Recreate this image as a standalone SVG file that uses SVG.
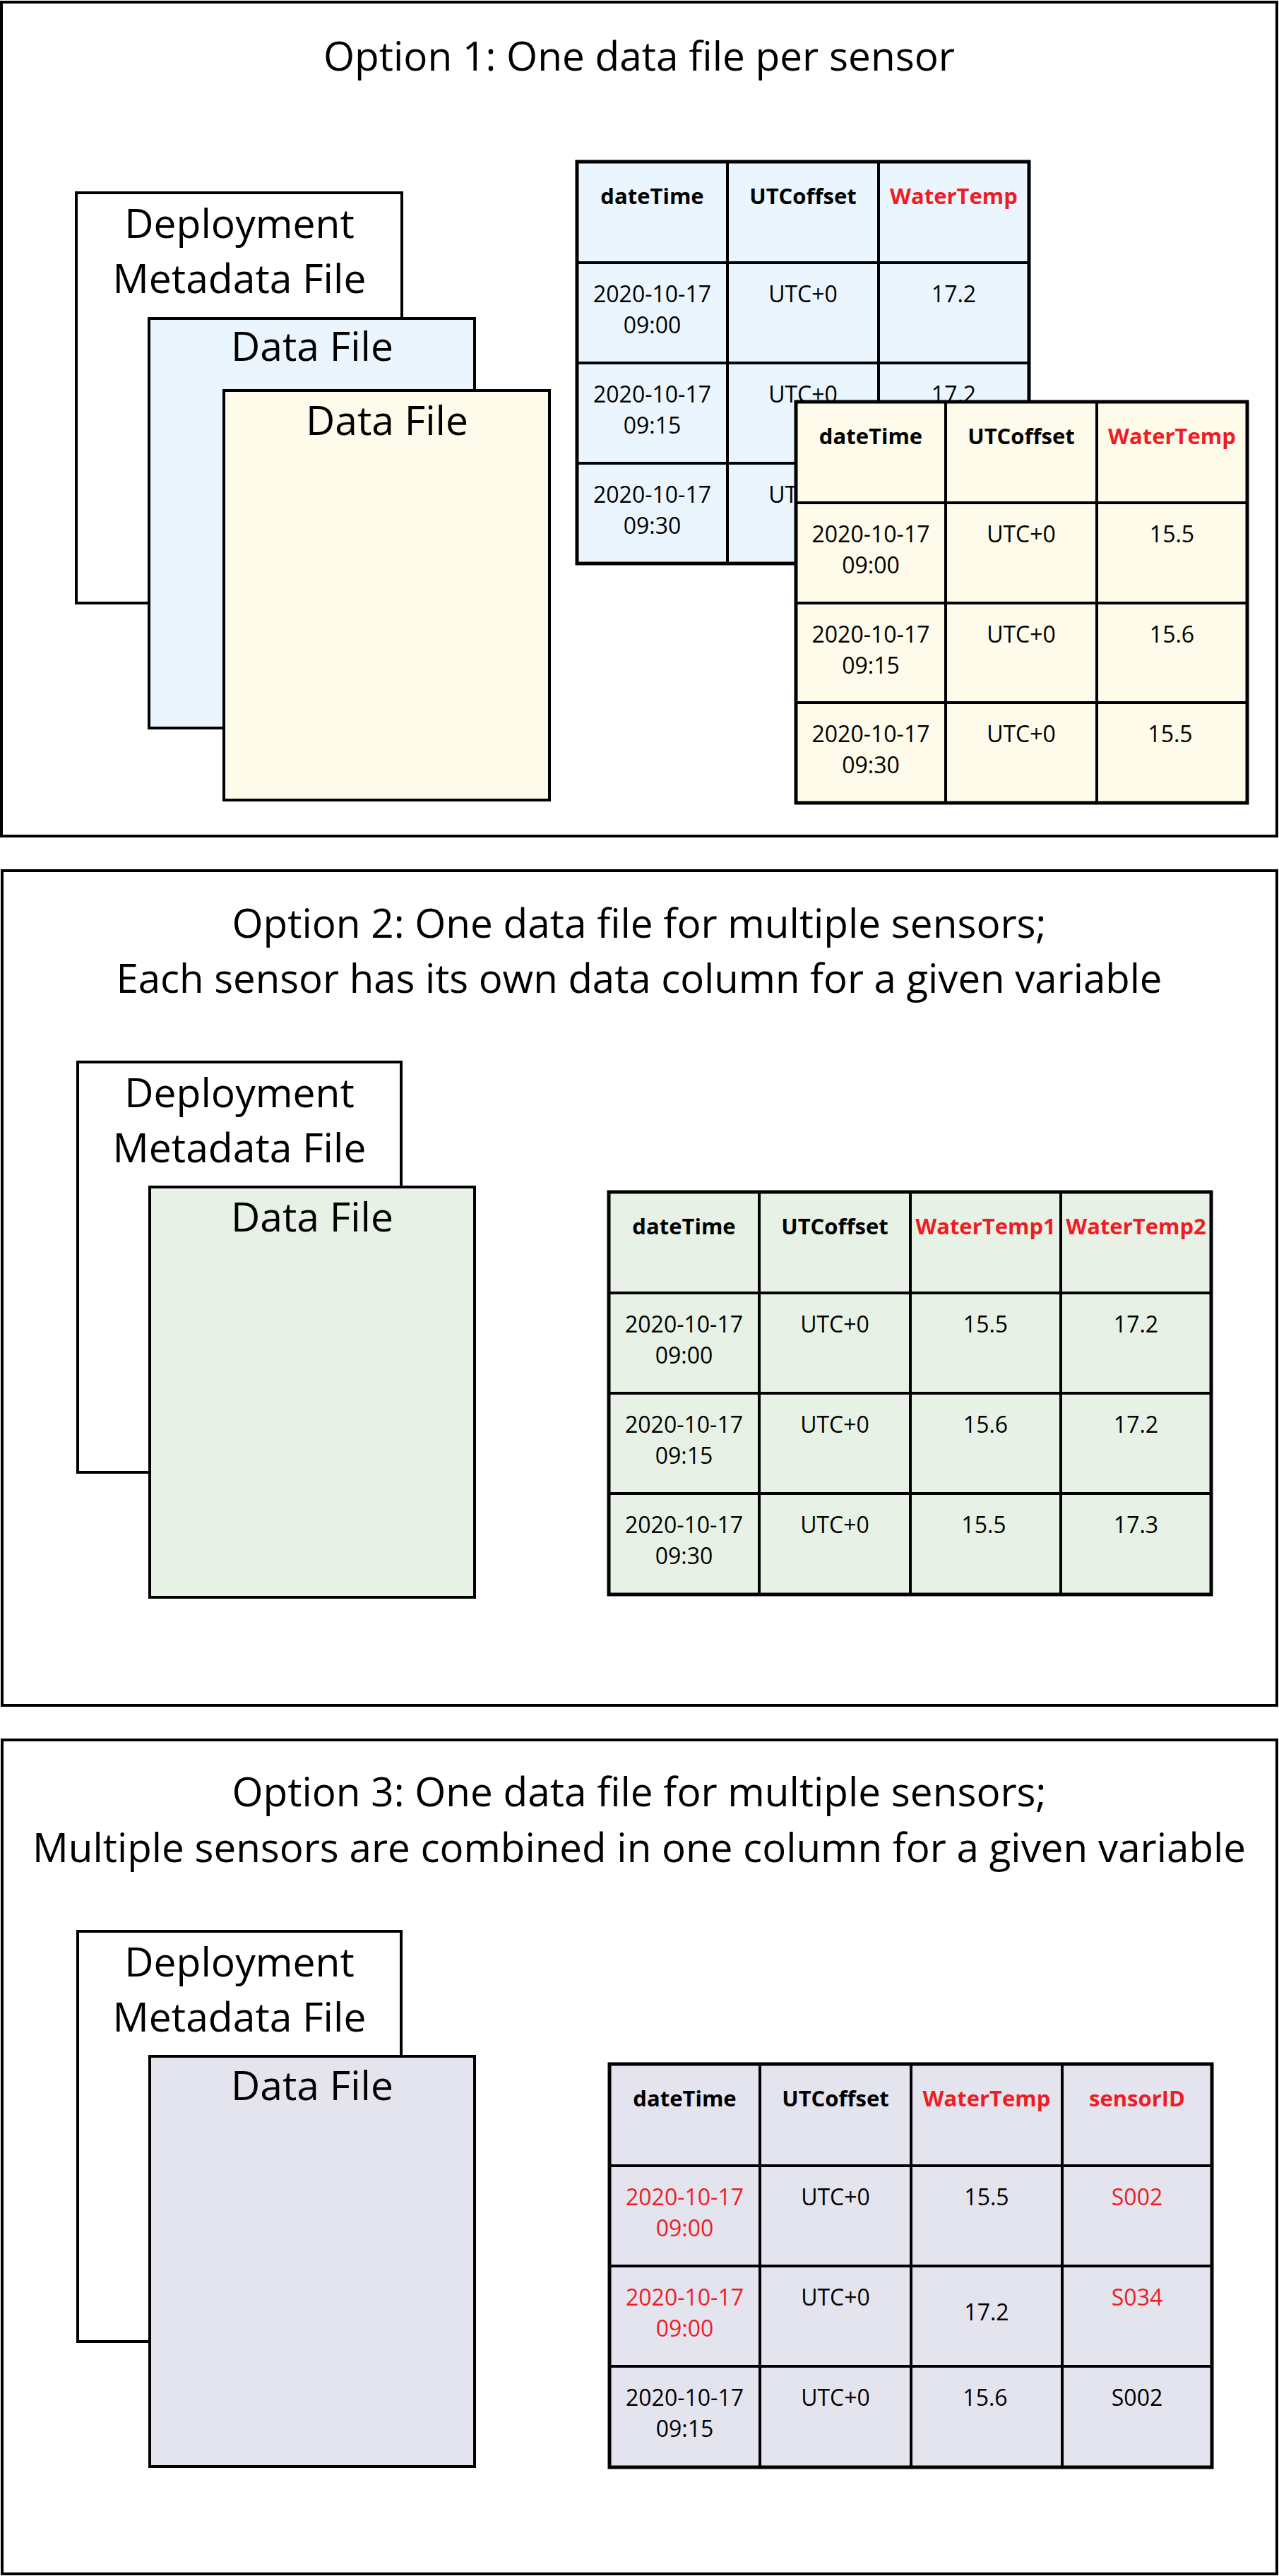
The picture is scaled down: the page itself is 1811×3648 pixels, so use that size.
<svg xmlns="http://www.w3.org/2000/svg" width="1811" height="3648" viewBox="0 0 1811 3648">
<style>
.frame{fill:#ffffff;stroke:#000;stroke-width:4}
.box{stroke:#000;stroke-width:4}
.white{fill:#ffffff}
.blue{fill:#EAF5FD}
.yellow{fill:#FEFBEA}
.green{fill:#E7F1E5}
.lav{fill:#E4E4EF}
.grid{stroke:#000;stroke-width:4;fill:none}
.outer{stroke:#000;stroke-width:5;fill:none}
.title{font-family:"Open Sans","Noto Sans",sans-serif;font-size:57px;fill:#000;text-anchor:middle}
.big{font-family:"Open Sans","Noto Sans",sans-serif;font-size:57px;fill:#000;text-anchor:middle}
.hd{font-family:"Open Sans","Noto Sans",sans-serif;font-size:31px;font-weight:bold;fill:#000;text-anchor:middle}
.td{font-family:"Open Sans","Noto Sans",sans-serif;font-size:32px;fill:#000;text-anchor:middle}
.red{fill:#EE1C24}
</style>

<!-- ========== OPTION 1 ========== -->
<g id="option1">
  <rect class="frame" x="2" y="3" width="1806" height="1181"/>
  <text class="title" x="905" y="100" textLength="894" lengthAdjust="spacingAndGlyphs">Option 1: One data file per sensor</text>
</g>
<g id="opt1-metadata">
  <rect class="box white" x="108" y="273" width="461" height="581"/>
  <text class="big" x="339" y="337">Deployment</text>
  <text class="big" x="339" y="415">Metadata File</text>
</g>
<g id="opt1-datafile-blue">
  <rect class="box blue" x="211" y="451" width="461" height="580"/>
  <text class="big" x="442" y="511">Data File</text>
</g>
<g id="opt1-datafile-yellow">
  <rect class="box yellow" x="317" y="553" width="461" height="580"/>
  <text class="big" x="548" y="616">Data File</text>
</g>
<g id="opt1-table-blue">
  <rect class="blue" x="817" y="229" width="640" height="569"/>
  <path class="grid" d="M1030 229V798M1244 229V798M817 372H1457M817 514H1457M817 656H1457"/>
  <rect class="outer" x="817" y="229" width="640" height="569"/>
  <text class="hd" x="923.5" y="289">dateTime</text>
  <text class="hd" x="1137" y="289">UTCoffset</text>
  <text class="hd red" x="1350.5" y="289">WaterTemp</text>
  <text class="td" x="923.5" y="428">2020-10-17</text>
  <text class="td" x="923.5" y="472">09:00</text>
  <text class="td" x="1137" y="428">UTC+0</text>
  <text class="td" x="1350.5" y="428">17.2</text>
  <text class="td" x="923.5" y="570">2020-10-17</text>
  <text class="td" x="923.5" y="614">09:15</text>
  <text class="td" x="1137" y="570">UTC+0</text>
  <text class="td" x="1350.5" y="570">17.2</text>
  <text class="td" x="923.5" y="712">2020-10-17</text>
  <text class="td" x="923.5" y="756">09:30</text>
  <text class="td" x="1137" y="712">UTC+0</text>
  <text class="td" x="1350.5" y="712">17.2</text>
</g>
<g id="opt1-table-yellow">
  <rect class="yellow" x="1127" y="569" width="639" height="568"/>
  <path class="grid" d="M1339 569V1137M1553 569V1137M1127 712H1766M1127 854H1766M1127 995H1766"/>
  <rect class="outer" x="1127" y="569" width="639" height="568"/>
  <text class="hd" x="1233" y="629">dateTime</text>
  <text class="hd" x="1446" y="629">UTCoffset</text>
  <text class="hd red" x="1659.5" y="629">WaterTemp</text>
  <text class="td" x="1233" y="768">2020-10-17</text>
  <text class="td" x="1233" y="812">09:00</text>
  <text class="td" x="1446" y="768">UTC+0</text>
  <text class="td" x="1659.5" y="768">15.5</text>
  <text class="td" x="1233" y="910">2020-10-17</text>
  <text class="td" x="1233" y="954">09:15</text>
  <text class="td" x="1446" y="910">UTC+0</text>
  <text class="td" x="1659.5" y="910">15.6</text>
  <text class="td" x="1233" y="1051">2020-10-17</text>
  <text class="td" x="1233" y="1095">09:30</text>
  <text class="td" x="1446" y="1051">UTC+0</text>
  <text class="td" x="1657" y="1051">15.5</text>
</g>

<!-- ========== OPTION 2 ========== -->
<g id="option2">
  <rect class="frame" x="3" y="1233" width="1805" height="1182"/>
  <text class="title" x="905" y="1328" textLength="1153" lengthAdjust="spacingAndGlyphs">Option 2: One data file for multiple sensors;</text>
  <text class="title" x="905" y="1406" textLength="1481" lengthAdjust="spacingAndGlyphs">Each sensor has its own data column for a given variable</text>
</g>
<g id="opt2-metadata">
  <rect class="box white" x="110" y="1504" width="458" height="581"/>
  <text class="big" x="339" y="1568">Deployment</text>
  <text class="big" x="339" y="1646">Metadata File</text>
</g>
<g id="opt2-datafile">
  <rect class="box green" x="212" y="1681" width="460" height="581"/>
  <text class="big" x="442" y="1744">Data File</text>
</g>
<g id="opt2-table">
  <rect class="green" x="862" y="1688" width="853" height="570"/>
  <path class="grid" d="M1075 1688V2258M1289 1688V2258M1502 1688V2258M862 1831H1715M862 1973H1715M862 2115H1715"/>
  <rect class="outer" x="862" y="1688" width="853" height="570"/>
  <text class="hd" x="968.5" y="1748">dateTime</text>
  <text class="hd" x="1182" y="1748">UTCoffset</text>
  <text class="hd red" x="1395.5" y="1748">WaterTemp1</text>
  <text class="hd red" x="1608.5" y="1748">WaterTemp2</text>
  <text class="td" x="968.5" y="1887">2020-10-17</text>
  <text class="td" x="968.5" y="1931">09:00</text>
  <text class="td" x="1182" y="1887">UTC+0</text>
  <text class="td" x="1395.5" y="1887">15.5</text>
  <text class="td" x="1608.5" y="1887">17.2</text>
  <text class="td" x="968.5" y="2029">2020-10-17</text>
  <text class="td" x="968.5" y="2073">09:15</text>
  <text class="td" x="1182" y="2029">UTC+0</text>
  <text class="td" x="1395.5" y="2029">15.6</text>
  <text class="td" x="1608.5" y="2029">17.2</text>
  <text class="td" x="968.5" y="2171">2020-10-17</text>
  <text class="td" x="968.5" y="2215">09:30</text>
  <text class="td" x="1182" y="2171">UTC+0</text>
  <text class="td" x="1393" y="2171">15.5</text>
  <text class="td" x="1608.5" y="2171">17.3</text>
</g>

<!-- ========== OPTION 3 ========== -->
<g id="option3">
  <rect class="frame" x="3" y="2464" width="1805" height="1181"/>
  <text class="title" x="905" y="2558" textLength="1153" lengthAdjust="spacingAndGlyphs">Option 3: One data file for multiple sensors;</text>
  <text class="title" x="905" y="2637" textLength="1718" lengthAdjust="spacingAndGlyphs">Multiple sensors are combined in one column for a given variable</text>
</g>
<g id="opt3-metadata">
  <rect class="box white" x="110" y="2735" width="458" height="581"/>
  <text class="big" x="339" y="2799">Deployment</text>
  <text class="big" x="339" y="2877">Metadata File</text>
</g>
<g id="opt3-datafile">
  <rect class="box lav" x="212" y="2912" width="460" height="581"/>
  <text class="big" x="442" y="2974">Data File</text>
</g>
<g id="opt3-table">
  <rect class="lav" x="863" y="2923" width="853" height="571"/>
  <path class="grid" d="M1076 2923V3494M1290 2923V3494M1504 2923V3494M863 3067H1716M863 3209H1716M863 3351H1716"/>
  <rect class="outer" x="863" y="2923" width="853" height="571"/>
  <text class="hd" x="969.5" y="2983">dateTime</text>
  <text class="hd" x="1183" y="2983">UTCoffset</text>
  <text class="hd red" x="1397" y="2983">WaterTemp</text>
  <text class="hd red" x="1610" y="2983">sensorID</text>
  <text class="td red" x="969.5" y="3123">2020-10-17</text>
  <text class="td red" x="969.5" y="3167">09:00</text>
  <text class="td" x="1183" y="3123">UTC+0</text>
  <text class="td" x="1397" y="3123">15.5</text>
  <text class="td red" x="1610" y="3123">S002</text>
  <text class="td red" x="969.5" y="3265">2020-10-17</text>
  <text class="td red" x="969.5" y="3309">09:00</text>
  <text class="td" x="1183" y="3265">UTC+0</text>
  <text class="td" x="1397" y="3286">17.2</text>
  <text class="td red" x="1610" y="3265">S034</text>
  <text class="td" x="969.5" y="3407">2020-10-17</text>
  <text class="td" x="969.5" y="3451">09:15</text>
  <text class="td" x="1183" y="3407">UTC+0</text>
  <text class="td" x="1395" y="3407">15.6</text>
  <text class="td" x="1610" y="3407">S002</text>
</g>
</svg>
